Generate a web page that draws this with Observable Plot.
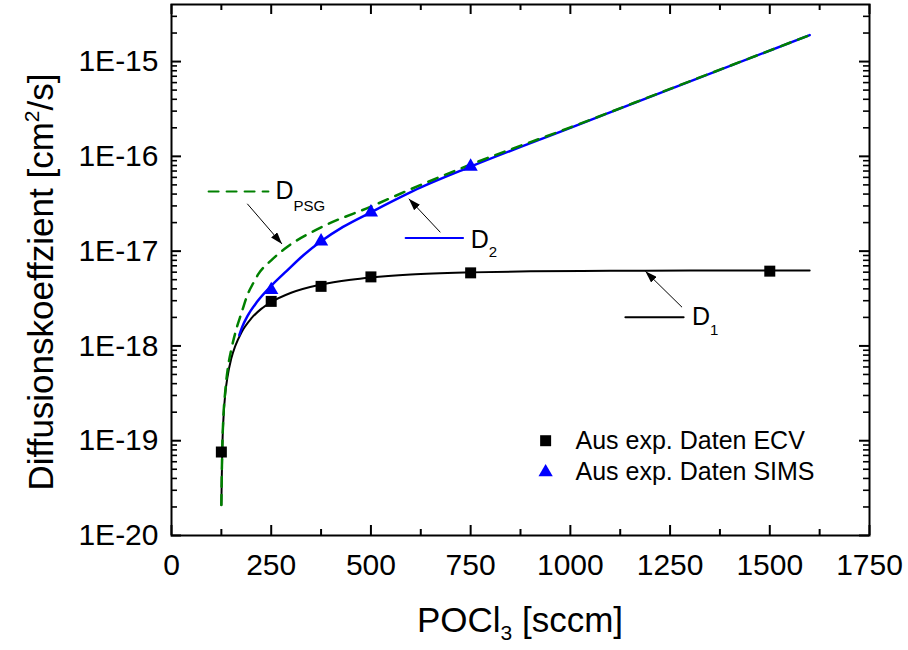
<!DOCTYPE html>
<html><head><meta charset="utf-8">
<script src="https://cdn.jsdelivr.net/npm/d3@7"></script>
<script src="https://cdn.jsdelivr.net/npm/@observablehq/plot@0.6"></script>
<style>body{margin:0;background:#fff;}</style>
</head><body><div id="chart"></div>
<script>
// ---- data ----
const xMajor = [0, 250, 500, 750, 1000, 1250, 1500, 1750];
const xMinor = [125, 375, 625, 875, 1125, 1375, 1625];
const yMajor = [1e-20, 1e-19, 1e-18, 1e-17, 1e-16, 1e-15];
const yMinor = [
  2e-20,3e-20,4e-20,5e-20,6e-20,7e-20,8e-20,9e-20,
  2e-19,3e-19,4e-19,5e-19,6e-19,7e-19,8e-19,9e-19,
  2e-18,3e-18,4e-18,5e-18,6e-18,7e-18,8e-18,9e-18,
  2e-17,3e-17,4e-17,5e-17,6e-17,7e-17,8e-17,9e-17,
  2e-16,3e-16,4e-16,5e-16,6e-16,7e-16,8e-16,9e-16,
  2e-15,3e-15];

const ecvX = [125, 250, 375, 500, 750, 1500];
const ecvD = [7.6e-20, 2.95e-18, 4.25e-18, 5.35e-18, 5.9e-18, 6.15e-18];
const simsX = [250, 375, 500, 750];
const simsD = [3.9e-18, 1.27e-17, 2.57e-17, 7.8e-17];

const d1X = [125,126,127.5,130,135,140,150,160,175,200,225,250,300,375,450,500,600,750,900,1100,1300,1600];
const d1D = [2.1e-20,4.0e-20,8.7e-20,1.64e-19,3.2e-19,4.6e-19,7.4e-19,1.0e-18,1.38e-18,1.95e-18,2.46e-18,2.9e-18,3.64e-18,4.45e-18,5.0e-18,5.28e-18,5.67e-18,5.97e-18,6.12e-18,6.2e-18,6.23e-18,6.25e-18];

const d2X = [170,177,190,214,250,289,330,375,430,500,625,750,1000,1250,1600];
const d2D = [1.3e-18,1.58e-18,2.05e-18,2.9e-18,4.3e-18,6.2e-18,9.0e-18,1.27e-17,1.8e-17,2.57e-17,4.7e-17,7.8e-17,2.0e-16,5.13e-16,1.9e-15];

const psgX = [125,126,127.5,130,135,143,150,164,175,191,205,218,250,289,375,500,625,750,1000,1250,1600];
const psgD = [2.1e-20,4.2e-20,9e-20,1.75e-19,3.4e-19,6.5e-19,9.2e-19,1.58e-18,2.2e-18,3.5e-18,4.6e-18,5.75e-18,8.0e-18,1.1e-17,1.78e-17,2.95e-17,5.0e-17,8.2e-17,2.02e-16,5.15e-16,1.9e-15];

const legendLabels = ["Aus exp. Daten ECV", "Aus exp. Daten SIMS"];
const xTitle = ["POCl", "3", " [sccm]"];
const yTitle = ["Diffusionskoeffzient [cm", "2", "/s]"];

const zip = (xs, ys) => xs.map((x, i) => ({x, y: ys[i]}));
const ecv = zip(ecvX, ecvD), sims = zip(simsX, simsD);
const d1 = zip(d1X, d1D), d2 = zip(d2X, d2D), psg = zip(psgX, psgD);

// annotation anchors (data units)
const annLines = [
  {k: "PSG", stroke: "#008000", dash: "10,8", pts: [{x: 93, y: 4.26e-17}, {x: 243, y: 4.26e-17}]},
  {k: "2", stroke: "#0000ff", dash: null, pts: [{x: 587, y: 1.38e-17}, {x: 731, y: 1.38e-17}]},
  {k: "1", stroke: "#000", dash: null, pts: [{x: 1138, y: 2.01e-18}, {x: 1284, y: 2.01e-18}]}
];
const arrows = [
  {x1: 190, y1: 3.16e-17, x2: 277, y2: 1.19e-17},
  {x1: 674, y1: 1.58e-17, x2: 595, y2: 3.57e-17},
  {x1: 1280, y1: 2.56e-18, x2: 1188, y2: 6.14e-18}
];
const dLabels = [
  {x: 261, y: 4.3e-17, sub: "PSG", dy: 15},
  {x: 750, y: 1.32e-17, sub: "2", dy: 12},
  {x: 1305, y: 2.04e-18, sub: "1", dy: 14}
];
const legendItems = [
  {x: 938, y: 1.0e-19, tx: 1013, label: legendLabels[0], symbol: "square", r: 6.2, fill: "#000"},
  {x: 938, y: 4.66e-20, tx: 1013, label: legendLabels[1], symbol: "triangle", r: 5.3, fill: "#0000ff"}
];

const W = 908, H = 650, mL = 171, mR = 39, mT = 4, mB = 115;
const plotW = W - mL - mR, plotH = H - mT - mB;
const FONT = "'Liberation Sans', Arial, sans-serif";

const chart = Plot.plot({
  width: W, height: H,
  marginLeft: mL, marginRight: mR, marginTop: mT, marginBottom: mB,
  style: {fontFamily: FONT, background: "#fff", color: "#000", overflow: "visible"},
  x: {domain: [0, 1750]},
  y: {type: "log", domain: [1e-20, 4e-15]},
  marks: [
    Plot.axisX({ticks: xMajor, tickSize: 0, tickPadding: 18, fontSize: 30, label: null, tickFormat: d => String(d)}),
    Plot.axisY({ticks: yMajor, tickSize: 0, tickPadding: 13, fontSize: 30, label: null, tickFormat: d => "1E" + Math.round(Math.log10(d))}),
    // inward ticks on all four sides
    Plot.tickX(xMajor, {x: d => d, insetTop: plotH - 10, stroke: "#000", strokeWidth: 2}),
    Plot.tickX(xMajor, {x: d => d, insetBottom: plotH - 10, stroke: "#000", strokeWidth: 2}),
    Plot.tickX(xMinor, {x: d => d, insetTop: plotH - 6, stroke: "#000", strokeWidth: 2}),
    Plot.tickX(xMinor, {x: d => d, insetBottom: plotH - 6, stroke: "#000", strokeWidth: 2}),
    Plot.tickY(yMajor, {y: d => d, insetRight: plotW - 10, stroke: "#000", strokeWidth: 2}),
    Plot.tickY(yMajor, {y: d => d, insetLeft: plotW - 10, stroke: "#000", strokeWidth: 2}),
    Plot.tickY(yMinor, {y: d => d, insetRight: plotW - 6, stroke: "#000", strokeWidth: 1.6}),
    Plot.tickY(yMinor, {y: d => d, insetLeft: plotW - 6, stroke: "#000", strokeWidth: 1.6}),
    // curves
    Plot.line(d1, {x: "x", y: "y", stroke: "#000", strokeWidth: 2, curve: "monotone-x"}),
    Plot.line(d2, {x: "x", y: "y", stroke: "#0000ff", strokeWidth: 2.5, curve: "monotone-x"}),
    Plot.line(psg, {x: "x", y: "y", stroke: "#008000", strokeWidth: 2.5, strokeDasharray: "10,8", curve: "monotone-x"}),
    // data points
    Plot.dot(ecv, {x: "x", y: "y", symbol: "square", r: 6.2, fill: "#000", stroke: null}),
    Plot.dot(sims, {x: "x", y: "y", symbol: "triangle", r: 5.3, fill: "#0000ff", stroke: null}),
    // annotations
    ...annLines.map(a => Plot.line(a.pts, {x: "x", y: "y", stroke: a.stroke, strokeWidth: 2, strokeDasharray: a.dash ?? undefined})),
    Plot.link(arrows, {x1: "x1", y1: "y1", x2: "x2", y2: "y2", stroke: "#000", strokeWidth: 1}),
    Plot.text(dLabels, {x: "x", y: "y", text: () => "D", fontSize: 25, textAnchor: "start", lineAnchor: "middle", fill: "#000"}),
    ...dLabels.map(l => Plot.text([l], {x: "x", y: "y", text: "sub", fontSize: 15, textAnchor: "start", lineAnchor: "middle", dx: 18, dy: l.dy, fill: "#000"})),
    // legend
    ...legendItems.map(l => Plot.dot([l], {x: "x", y: "y", symbol: l.symbol, r: l.r, fill: l.fill, stroke: null})),
    Plot.text(legendItems, {x: "tx", y: "y", text: "label", fontSize: 25, textAnchor: "start", lineAnchor: "middle", fill: "#000"}),
    Plot.frame({stroke: "#000", strokeWidth: 2})
  ]
});

const svg = d3.select(chart);
// filled arrow heads
const defs = svg.insert("defs", ":first-child");
defs.append("marker").attr("id", "ahead").attr("viewBox", "0 0 12 8")
  .attr("refX", 12).attr("refY", 4).attr("markerWidth", 12).attr("markerHeight", 8)
  .attr("markerUnits", "userSpaceOnUse").attr("orient", "auto")
  .append("path").attr("d", "M0,0L12,4L0,8Z").attr("fill", "#000");
svg.selectAll('g[aria-label="link"] path').attr("marker-end", "url(#ahead)");

// axis titles with sub/superscripts
const xt = svg.append("text").attr("x", 520).attr("y", 632).attr("text-anchor", "middle")
  .attr("font-family", FONT).attr("font-size", 35).attr("fill", "#000");
xt.append("tspan").text(xTitle[0]);
xt.append("tspan").attr("font-size", 21).attr("dy", 8).text(xTitle[1]);
xt.append("tspan").attr("dy", -8).text(xTitle[2]);

const yt = svg.append("text").attr("transform", "translate(53,282) rotate(-90)").attr("text-anchor", "middle")
  .attr("font-family", FONT).attr("font-size", 35).attr("fill", "#000");
yt.append("tspan").text(yTitle[0]);
yt.append("tspan").attr("font-size", 21).attr("dy", -14).text(yTitle[1]);
yt.append("tspan").attr("dy", 14).text(yTitle[2]);

document.getElementById("chart").append(chart);
</script>
</body></html>
